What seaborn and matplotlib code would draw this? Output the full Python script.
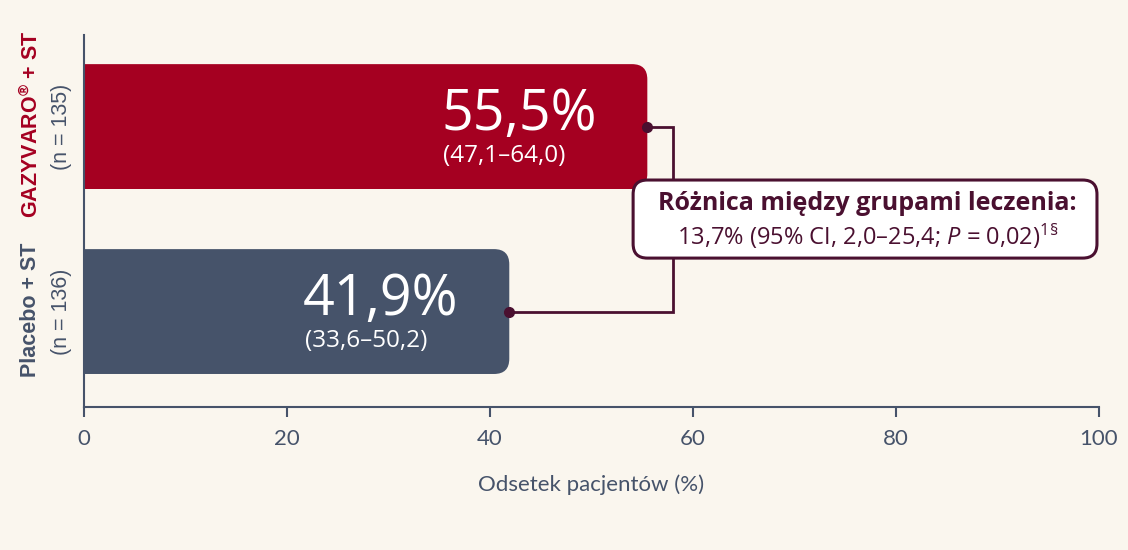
import matplotlib
matplotlib.use("Agg")
import matplotlib.pyplot as plt
import matplotlib.transforms as mtransforms
from matplotlib.patches import FancyBboxPatch
import seaborn as sns

# data
groups = ["GAZYVARO® + ST", "Placebo + ST"]
group_labels = [r"$\mathbf{GAZYVARO}^{\mathbf{®}}$ + ST", "Placebo + ST"]
n_labels = ["(n = 135)", "(n = 136)"]
rates = [55.5, 41.9]
rate_labels = ["55,5%", "41,9%"]
ci_labels = ["(47,1–64,0)", "(33,6–50,2)"]
bar_colors = ["#a50021", "#46536a"]
diff_title = "Różnica między grupami leczenia:"
diff_text = r"13,7% (95% CI, 2,0–25,4; $\mathit{P}$ = 0,02)$^{\mathregular{1§}}$"
xticks = [0, 20, 40, 60, 80, 100]

BG = "#faf6ee"
SLATE = "#46536a"
MAROON = "#4a1030"

sns.set_theme(style="white")
plt.rcParams["font.family"] = ["Open Sans", "DejaVu Sans"]
plt.rcParams["mathtext.fontset"] = "custom"
plt.rcParams["mathtext.rm"] = "Open Sans"
plt.rcParams["mathtext.it"] = "Open Sans:italic"
plt.rcParams["mathtext.bf"] = "Liberation Sans:bold"

fig = plt.figure(figsize=(11.28, 5.5), dpi=100, facecolor=BG)
ax = fig.add_axes([84 / 1128, 1 - 407 / 550, 1015 / 1128, 372 / 550])
ax.set_facecolor(BG)

sns.barplot(x=rates, y=groups, hue=groups, palette=bar_colors, orient="h",
            width=0.675, saturation=1, legend=False, ax=ax)

ax.set_xlim(0, 100)
ax.set_ylim(1.516, -0.495)

# swap the plain bars for ones with rounded ends
for p in list(ax.patches):
    x0, y0, w, h = p.get_x(), p.get_y(), p.get_width(), p.get_height()
    fc = p.get_facecolor()
    p.set_visible(False)
    rb = FancyBboxPatch((x0 - 3, y0), w + 3, h,
                        boxstyle="round,pad=0,rounding_size=1.5",
                        mutation_aspect=0.0549, fc=fc, ec="none", zorder=2)
    ax.add_patch(rb)

for i, (v, lab, ci) in enumerate(zip(rates, rate_labels, ci_labels)):
    ax.text(v - 20.3, i + 0.02, lab, color="white", fontsize=40,
            ha="left", va="baseline", zorder=4)
    ax.text(v - 20.1, i + 0.19, ci, color="white", fontsize=17.5,
            ha="left", va="baseline", zorder=4)

# connector between the two bars
ax.plot([rates[0], 58, 58, rates[1]], [0, 0, 1, 1], color=MAROON, lw=2, zorder=3,
        solid_joinstyle="miter")
ax.plot(rates, [0, 1], ls="none", marker="o", ms=7, color=MAROON, zorder=3)

box = FancyBboxPatch((54.1, 0.289), 45.7, 0.422,
                     boxstyle="round,pad=0,rounding_size=1.4",
                     mutation_aspect=0.0549, fc="white", ec=MAROON, lw=2.2,
                     zorder=5, clip_on=False)
ax.add_patch(box)
ax.text(77.2, 0.414, diff_title, color=MAROON, fontsize=18, fontweight="bold",
        ha="center", va="center", zorder=6)
ax.text(77.2, 0.59, diff_text, color=MAROON, fontsize=17,
        ha="center", va="center", zorder=6)

# group labels on the left
tr = mtransforms.blended_transform_factory(fig.transFigure, ax.transData)
for i, (g, n) in enumerate(zip(group_labels, n_labels)):
    ax.text(31 / 1128, i - 0.01, g, transform=tr, rotation=90, ha="center",
            va="center", fontsize=15.5, fontweight="bold", color=bar_colors[i],
            family=["Liberation Sans", "DejaVu Sans"])
    ax.text(61 / 1128, i, n, transform=tr, rotation=90, ha="center", va="center",
            fontsize=15.5, color=SLATE, family=["Liberation Sans", "DejaVu Sans"])

ax.set_yticks([])
ax.set_ylabel("")
ax.set_xticks(xticks)
ax.set_xticklabels([str(t) for t in xticks], family="Lato", fontsize=16, color=SLATE)
ax.tick_params(axis="x", length=7, width=1.5, color=SLATE, pad=9, bottom=True)
ax.set_xlabel("Odsetek pacjentów (%)", family="Lato", fontsize=16, color=SLATE,
              labelpad=18)

for s in ["top", "right"]:
    ax.spines[s].set_visible(False)
for s in ["left", "bottom"]:
    ax.spines[s].set_color(SLATE)
    ax.spines[s].set_linewidth(1.5)
    ax.spines[s].set_zorder(6)

fig.savefig("out.png", dpi=100, facecolor=BG)
